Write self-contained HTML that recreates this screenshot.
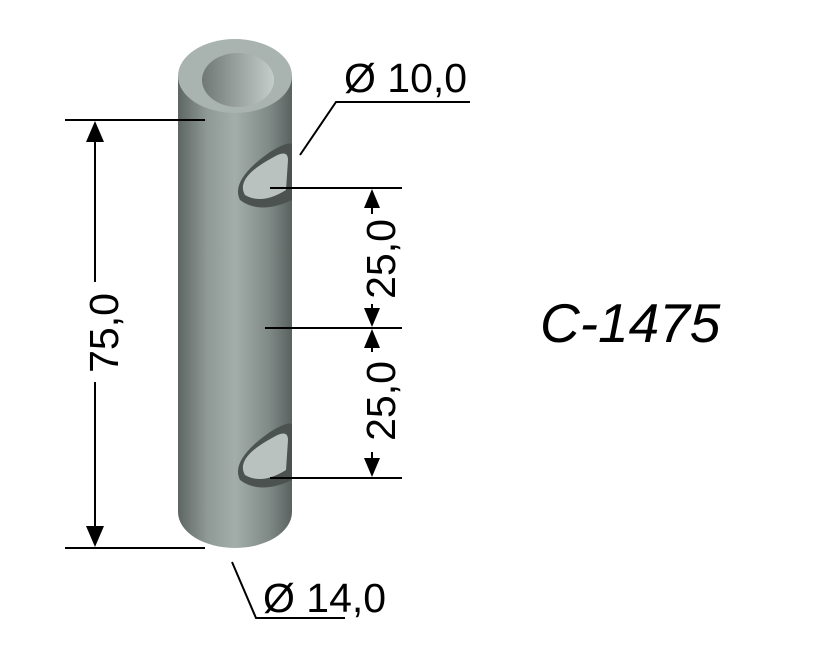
<!DOCTYPE html><html><head><style>body{margin:0;background:#fff}svg{display:block}text{font-family:"Liberation Sans",sans-serif;fill:#000}</style></head><body>
<svg width="824" height="668" viewBox="0 0 824 668">
<defs>
<linearGradient id="cyl" x1="0" x2="1" y1="0" y2="0">
<stop offset="0" stop-color="#5e6663"/><stop offset="0.25" stop-color="#8e9895"/><stop offset="0.5" stop-color="#a3adaa"/><stop offset="0.8" stop-color="#7f8986"/><stop offset="1" stop-color="#5a6260"/></linearGradient>
<linearGradient id="in" x1="0" x2="1"><stop offset="0" stop-color="#6f7875"/><stop offset="1" stop-color="#c5cdca"/></linearGradient>
</defs>
<path d="M178 76 L178 512 A57 36 0 0 0 292 512 L292 76 Z" fill="url(#cyl)"/>
<ellipse cx="235" cy="76" rx="57" ry="37" fill="#a9b3b0"/>
<ellipse cx="238" cy="80" rx="36" ry="27" fill="url(#in)"/>
<path d="M270 152 Q290 140 292 145 L292 200 Q260 215 240 200 Q230 180 270 152Z" fill="#4b5250"/>
<path d="M272 158 Q288 148 288 160 L286 190 Q262 205 245 195 Q235 178 272 158Z" fill="#b9c2bf"/>
<path d="M270 432 Q290 420 292 425 L292 480 Q260 495 240 480 Q230 460 270 432Z" fill="#4b5250"/>
<path d="M272 438 Q288 428 288 440 L286 470 Q262 485 245 475 Q235 458 272 438Z" fill="#b9c2bf"/>
<g stroke="#000" stroke-width="2" fill="none">
<line x1="65" y1="120" x2="205" y2="120"/><line x1="65" y1="548" x2="205" y2="548"/>
<line x1="95" y1="140" x2="95" y2="282"/><line x1="95" y1="382" x2="95" y2="528"/>
<line x1="270" y1="188" x2="402" y2="188"/><line x1="265" y1="328" x2="402" y2="328"/><line x1="270" y1="478" x2="402" y2="478"/>
<line x1="372" y1="205" x2="372" y2="214"/><line x1="372" y1="304" x2="372" y2="312"/>
<line x1="372" y1="344" x2="372" y2="352"/><line x1="372" y1="452" x2="372" y2="462"/>
<polyline points="300,155 336,102 470,102"/>
<polyline points="232,562 256,618 345,618"/>
</g>
<g fill="#000">
<polygon points="95,121 86,142 104,142"/><polygon points="95,547 86,526 104,526"/>
<polygon points="372,189 364,208 380,208"/><polygon points="372,327 364,308 380,308"/>
<polygon points="372,329 364,348 380,348"/><polygon points="372,477 364,458 380,458"/>
</g>
<text x="118" y="333" font-size="41" text-anchor="middle" transform="rotate(-90 118 333)">75,0</text>
<text x="395" y="259" font-size="41" text-anchor="middle" transform="rotate(-90 395 259)">25,0</text>
<text x="395" y="401" font-size="41" text-anchor="middle" transform="rotate(-90 395 401)">25,0</text>
<text x="344" y="92" font-size="41">Ø 10,0</text>
<text x="263" y="612" font-size="41">Ø 14,0</text>
<text x="540" y="342" font-size="55" font-style="italic">C-1475</text>
</svg></body></html>
